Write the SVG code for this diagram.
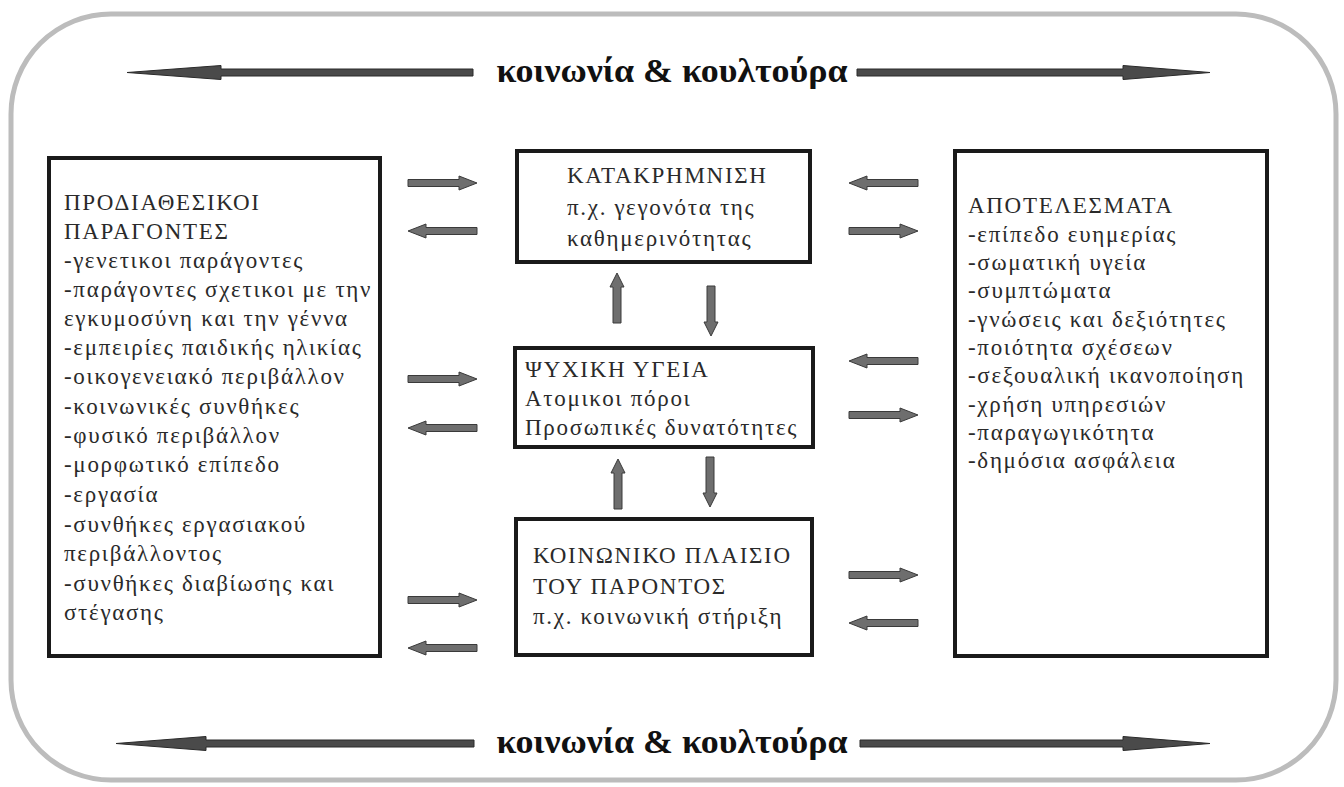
<svg xmlns="http://www.w3.org/2000/svg" width="1344" height="787" viewBox="0 0 1344 787">
<style>
.frame{fill:none;stroke:#bcbcbc;stroke-width:5}
.box{fill:#fff;stroke:#1a1a1a;stroke-width:4}
.t{font-family:"Liberation Serif","Times New Roman","DejaVu Serif",serif;font-size:23px;letter-spacing:1.7px;fill:#2a2a2a}
.title{font-family:"Liberation Serif","Times New Roman","DejaVu Serif",serif;font-size:33px;font-weight:bold;fill:#111}
.big{fill:#4a4a4a;stroke:#2a2a2a;stroke-width:1}
.sm{fill:#6e6e6e;stroke:#3a3a3a;stroke-width:1}
</style>
<defs>
<path id="ar" d="M0,-3.5 H51 V-7 L69,0 L51,7 V3.5 H0 Z"/>
<path id="al" d="M69,-3.5 H18 V-7 L0,0 L18,7 V3.5 H69 Z"/>
<path id="au" d="M-4,50 V14 H-7 L0,0 L7,14 H4 V50 Z"/>
<path id="ad" d="M-4,0 V36 H-7 L0,50 L7,36 H4 V0 Z"/>
</defs>
<rect class="frame" x="11" y="14" width="1325" height="766" rx="100" ry="100"/>

<g id="culture-top">
<text class="title" x="672" y="82" text-anchor="middle" textLength="351" lengthAdjust="spacingAndGlyphs">κοινωνία &amp; κουλτούρα</text>
</g>
<g id="culture-bottom">
<text class="title" x="672" y="753" text-anchor="middle" textLength="351" lengthAdjust="spacingAndGlyphs">κοινωνία &amp; κουλτούρα</text>
</g>

<g id="predisposing">
<rect class="box" x="49" y="158" width="331" height="498"/>
<text class="t">
<tspan x="64" y="210">ΠΡΟΔΙΑΘΕΣΙΚΟΙ</tspan>
<tspan x="64" y="239">ΠΑΡΑΓΟΝΤΕΣ</tspan>
<tspan x="64" y="268">-γενετικοι παράγοντες</tspan>
<tspan x="64" y="297">-παράγοντες σχετικοι με την</tspan>
<tspan x="64" y="326">εγκυμοσύνη και την γέννα</tspan>
<tspan x="64" y="355">-εμπειρίες παιδικής ηλικίας</tspan>
<tspan x="64" y="384">-οικογενειακό περιβάλλον</tspan>
<tspan x="64" y="414">-κοινωνικές συνθήκες</tspan>
<tspan x="64" y="443">-φυσικό περιβάλλον</tspan>
<tspan x="64" y="472">-μορφωτικό επίπεδο</tspan>
<tspan x="64" y="502">-εργασία</tspan>
<tspan x="64" y="532">-συνθήκες εργασιακού</tspan>
<tspan x="64" y="561">περιβάλλοντος</tspan>
<tspan x="64" y="591">-συνθήκες διαβίωσης και</tspan>
<tspan x="64" y="620">στέγασης</tspan>
</text>
</g>

<g id="precipitating">
<rect class="box" x="517" y="151" width="293" height="111"/>
<text class="t">
<tspan x="567" y="183">ΚΑΤΑΚΡΗΜΝΙΣΗ</tspan>
<tspan x="567" y="215">π.χ. γεγονότα της</tspan>
<tspan x="567" y="246">καθημερινότητας</tspan>
</text>
</g>

<g id="mental-health">
<rect class="box" x="515" y="348" width="298" height="99"/>
<text class="t">
<tspan x="525" y="377">ΨΥΧΙΚΗ ΥΓΕΙΑ</tspan>
<tspan x="525" y="406">Ατομικοι πόροι</tspan>
<tspan x="525" y="435">Προσωπικές δυνατότητες</tspan>
</text>
</g>

<g id="social-context">
<rect class="box" x="516" y="519" width="296" height="136"/>
<text class="t">
<tspan x="533" y="563">ΚΟΙΝΩΝΙΚΟ ΠΛΑΙΣΙΟ</tspan>
<tspan x="533" y="594">ΤΟΥ ΠΑΡΟΝΤΟΣ</tspan>
<tspan x="533" y="624">π.χ. κοινωνική στήριξη</tspan>
</text>
</g>

<g id="outcomes">
<rect class="box" x="955" y="151" width="312" height="505"/>
<text class="t">
<tspan x="968" y="213">ΑΠΟΤΕΛΕΣΜΑΤΑ</tspan>
<tspan x="968" y="242">-επίπεδο ευημερίας</tspan>
<tspan x="968" y="270">-σωματική υγεία</tspan>
<tspan x="968" y="298">-συμπτώματα</tspan>
<tspan x="968" y="327">-γνώσεις και δεξιότητες</tspan>
<tspan x="968" y="355">-ποιότητα σχέσεων</tspan>
<tspan x="968" y="383">-σεξουαλική ικανοποίηση</tspan>
<tspan x="968" y="412">-χρήση υπηρεσιών</tspan>
<tspan x="968" y="440">-παραγωγικότητα</tspan>
<tspan x="968" y="468">-δημόσια ασφάλεια</tspan>
</text>
</g>

<g id="connectors">
<path class="big" d="M127,72.5 L221,65.5 V69 H473 V76 H221 V79.5 Z"/>
<path class="big" d="M1210,72.5 L1123,65.5 V69 H857 V76 H1123 V79.5 Z"/>
<path class="big" d="M116,743.5 L206,736.5 V740 H474 V747 H206 V750.5 Z"/>
<path class="big" d="M1210,743.5 L1123,736.5 V740 H860 V747 H1123 V750.5 Z"/>

<use class="sm" href="#ar" x="408" y="183"/>
<use class="sm" href="#al" x="408" y="231"/>
<use class="sm" href="#ar" x="408" y="379"/>
<use class="sm" href="#al" x="408" y="428"/>
<use class="sm" href="#ar" x="408" y="600"/>
<use class="sm" href="#al" x="408" y="648"/>

<use class="sm" href="#al" x="849" y="183"/>
<use class="sm" href="#ar" x="849" y="231"/>
<use class="sm" href="#al" x="849" y="361"/>
<use class="sm" href="#ar" x="849" y="415"/>
<use class="sm" href="#ar" x="849" y="575"/>
<use class="sm" href="#al" x="849" y="623"/>

<use class="sm" href="#au" x="617" y="273"/>
<use class="sm" href="#ad" x="711" y="286"/>
<use class="sm" href="#au" x="618" y="459"/>
<use class="sm" href="#ad" x="710" y="457"/>
</g>
</svg>
